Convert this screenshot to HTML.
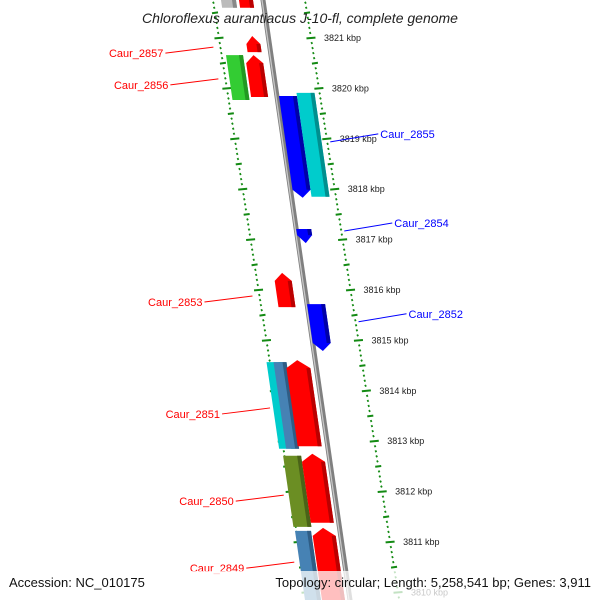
<!DOCTYPE html>
<html><head><meta charset="utf-8"><style>
body{margin:0;background:#fff}svg{display:block;font-family:"Liberation Sans",sans-serif}
</style></head><body>
<svg id="c" width="600" height="600" viewBox="0 0 600 600">
<g id="g"></g>
<text x="300" y="23" text-anchor="middle" font-size="14" font-style="italic" fill="#222">Chloroflexus aurantiacus J-10-fl, complete genome</text>
<rect x="0" y="571" width="600" height="29" fill="#fff" opacity="0.75"/>
<text x="9" y="587" font-size="13" fill="#111">Accession: NC_010175</text>
<text x="591" y="587" font-size="13" fill="#111" text-anchor="end">Topology: circular; Length: 5,258,541 bp; Genes: 3,911</text>
</svg>
<script>
const tickKbp=[3821,3820,3819,3818,3817,3816,3815,3814,3813,3812,3811,3810];
const geneNames=["top-gray","top-red","Caur_2857","Caur_2856","Caur_2856b","Caur_2855","Caur_2855b","Caur_2854","Caur_2853","Caur_2852","Caur_2851","Caur_2851b","Caur_2851c","Caur_2850","Caur_2850b","Caur_2849","Caur_2849b"];
const geneStart=[3822.2,3822.2,3821.04,3820.66,3820.66,3819.85,3819.91,3817.21,3816.34,3815.72,3814.57,3814.57,3814.61,3812.71,3812.75,3811.22,3811.28];
const geneEnd=[3821.6,3821.6,3820.72,3819.83,3819.77,3817.83,3817.85,3816.93,3815.66,3814.79,3812.85,3812.85,3812.90,3811.30,3811.38,3809.6,3809.6];
const geneU0=[-42,-24,-23,-26,-45,2,20,0,-29,0,-49,-42,-30,-46,-28,-45,-28];
const geneU1=[-27,-10,-9,-9,-28,20,38,15,-12,18,-33,-29,-6,-28,-5,-29,-5];
const geneColor=["#bbb","#f00","#f00","#f00","#33cc33","#0000ff","#00cccc","#0000ff","#f00","#0000ff","#00cccc","#4682b4","#f00","#6b8e23","#f00","#4682b4","#f00"];
const geneDir=[0,0,1,1,0,-1,0,-1,1,-1,0,0,1,0,1,0,1];
const labelNames=["Caur_2857","Caur_2856","Caur_2855","Caur_2854","Caur_2853","Caur_2852","Caur_2851","Caur_2850","Caur_2849"];
const labelKbp=[3820.82,3820.19,3818.94,3817.17,3815.88,3815.37,3813.66,3811.93,3810.6];
const labelSide=[-1,-1,1,1,-1,1,-1,-1,-1];
const labelColor=["red","red","blue","blue","red","blue","red","red","red"];
const NS="http://www.w3.org/2000/svg",g=document.getElementById('g');
const yK=k=>38+(3821-k)*50.4;
const bx=y=>263+0.145*y;
const inner=y=>213+0.157*y, outer=y=>305+0.157*y;
function mk(t,a){const e=document.createElementNS(NS,t);for(const k in a)e.setAttribute(k,a[k]);g.appendChild(e);return e;}
for(let k=3822.5;k>=3809.4;k-=0.1){const kk=Math.round(k*10)/10,y=yK(kk);
 const major=Math.abs(kk-Math.round(kk))<0.01, half=Math.abs(kk*2-Math.round(kk*2))<0.01;
 const w=major?9:(half?6:1.6);
 [inner,outer].forEach((f,i)=>{const x=f(y);const e=mk('line',{x1:x-w/2,y1:y+0.4,x2:x+w/2,y2:y-0.4,stroke:'#138a13','stroke-width':2});
 });}
tickKbp.forEach(k=>{const y=yK(k);const t=mk('text',{x:outer(y)+13,y:y+3,'font-size':9,fill:'#222'});t.textContent=k+' kbp';
 });
let e=mk('line',{x1:bx(-5),y1:-5,x2:bx(605),y2:605,stroke:'#808080','stroke-width':5});

e=mk('line',{x1:bx(-5)-1,y1:-5,x2:bx(605)-1,y2:605,stroke:'#c8c8c8','stroke-width':1.3});

function shade(c){const m={"#f00":"#b00","#bbb":"#888","#33cc33":"#229922","#0000ff":"#0000a8","#00cccc":"#008f8f","#4682b4":"#2f5d85","#6b8e23":"#4a6318"};return m[c]||c;}
geneNames.forEach((n,i)=>{const y0=yK(geneStart[i]),y1=yK(geneEnd[i]),u0=geneU0[i],u1=geneU1[i],d=geneDir[i],h=8;
 const P=(u,y)=>(bx(y)+u).toFixed(1)+','+y.toFixed(1);const um=(u0+u1)/2;let pts;
 if(d===1)pts=[P(u0,y1),P(u0,y0+h),P(um,y0),P(u1,y0+h),P(u1,y1)];
 else if(d===-1)pts=[P(u0,y0),P(u1,y0),P(u1,y1-h),P(um,y1),P(u0,y1-h)];
 else pts=[P(u0,y0),P(u1,y0),P(u1,y1),P(u0,y1)];
 const p=mk('polygon',{points:pts.join(' '),fill:geneColor[i]});
 
 const s0=y0+(d===1?h:0),s1=y1-(d===-1?h:0);
 const q=mk('polygon',{points:[P(u1-4,s0),P(u1,s0),P(u1,s1),P(u1-4,s1)].join(' '),fill:shade(geneColor[i])});
 });
labelNames.forEach((n,i)=>{const y=yK(labelKbp[i]);let lx,tx,anchor,ty;
 if(labelSide[i]<0){lx=inner(y)-7;tx=lx-50;anchor='end';ty=y+6;}else{lx=outer(y)+3;tx=lx+50;anchor='start';ty=y-8;}
 const l=mk('line',{x1:lx,y1:y,x2:labelSide[i]<0?tx+2:tx-2,y2:ty,stroke:labelColor[i],'stroke-width':1});
 
 const t=mk('text',{x:tx,y:ty+4,'font-size':11,fill:labelColor[i],'text-anchor':anchor});t.textContent=n;
 });
</script>
</body></html>
